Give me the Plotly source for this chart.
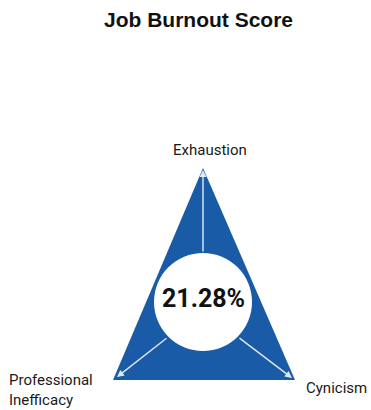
import plotly.graph_objects as go

# ---- data ----
title = "Job Burnout Score"
dimensions = ["Exhaustion", "Cynicism", "Professional<br>Inefficacy"]
score = 21.28

# ---- geometry (pixel-like coordinate space) ----
W, H = 371, 410
apex = (203, 168)
right = (295, 380)
left = (113, 380)
cx, cy, r = 203, 302, 49
blue = "#1A5BA8"

fig = go.Figure()
fig.add_trace(go.Scatter(
    x=[apex[0], right[0], left[0], apex[0]],
    y=[apex[1], right[1], left[1], apex[1]],
    fill="toself", fillcolor=blue, mode="lines",
    line=dict(color=blue, width=0), hoverinfo="skip", showlegend=False))

fig.add_shape(type="circle", xref="x", yref="y",
              x0=cx - r, x1=cx + r, y0=cy - r, y1=cy + r,
              fillcolor="white", line=dict(color="white", width=0))

# arrows from circle to vertices
arrows = [((cx, cy - r), (apex[0], apex[1] + 2)),
          ((cx + 35, cy + 35), (right[0] - 3, right[1] - 2)),
          ((cx - 35, cy + 35), (left[0] + 4, left[1] - 3))]
for (tx, ty), (hx, hy) in arrows:
    fig.add_annotation(x=hx, y=hy, ax=tx, ay=ty, xref="x", yref="y",
                       axref="x", ayref="y", text="", showarrow=True,
                       arrowhead=2, arrowsize=1, arrowwidth=1.4,
                       arrowcolor="#dfe8f5")

fig.add_annotation(x=cx, y=cy - 4, text=f"<b>{score:.2f}%</b>", showarrow=False,
                   font=dict(family="Roboto", size=25, color="#111111"),
                   xref="x", yref="y")

label_font = dict(family="Roboto", size=15, color="#1a1a1a")
fig.add_annotation(x=210, y=150, text=dimensions[0], showarrow=False,
                   font=label_font, xref="x", yref="y")
fig.add_annotation(x=304, y=388, text=dimensions[1], showarrow=False,
                   xanchor="left", font=label_font, xref="x", yref="y")
fig.add_annotation(x=7, y=390, text=dimensions[2], showarrow=False,
                   xanchor="left", align="left", font=label_font,
                   xref="x", yref="y")

fig.add_annotation(x=198, y=19, text=f"<b>{title}</b>", showarrow=False,
                   font=dict(family="Liberation Sans", size=21, color="#111111"),
                   xref="x", yref="y")

fig.update_layout(
    width=W, height=H, margin=dict(l=0, r=0, t=0, b=0),
    paper_bgcolor="white", plot_bgcolor="white",
    xaxis=dict(range=[0, W], visible=False, fixedrange=True),
    yaxis=dict(range=[H, 0], visible=False, fixedrange=True),
)
fig.write_html("out.html")
